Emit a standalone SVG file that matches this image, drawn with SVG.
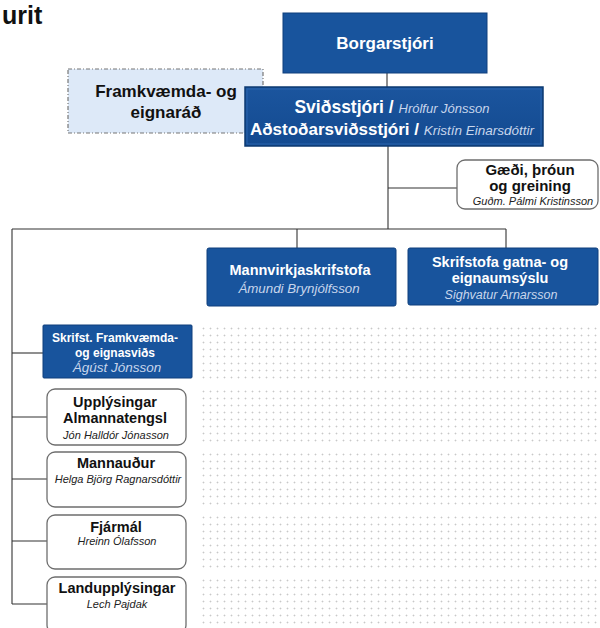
<svg xmlns="http://www.w3.org/2000/svg" width="600" height="628" viewBox="0 0 600 628">
<defs>
<pattern id="dots" width="7" height="7" patternUnits="userSpaceOnUse" x="200" y="325">
<rect x="0" y="0" width="7" height="7" fill="#ffffff"/>
<rect x="2" y="3" width="3" height="1" fill="#ececec"/>
<rect x="3" y="2" width="1" height="3" fill="#ececec"/>
<rect x="3" y="3" width="1" height="1" fill="#c8c8c8"/>
</pattern>
<linearGradient id="svgrad" x1="0" y1="0" x2="0" y2="1">
<stop offset="0" stop-color="#1b559e"/>
<stop offset="1" stop-color="#134a90"/>
</linearGradient>
</defs>
<style>
.blue{fill:#18549d;stroke:#0f3f7c;stroke-width:1}
.white{fill:#ffffff;stroke:#6e6e6e;stroke-width:1.3}
.band{fill:url(#dots)}
.conn line{stroke:#333333;stroke-width:1.1}
text{font-family:"Liberation Sans",Arial,sans-serif;text-anchor:middle}
.bw{font-weight:bold;fill:#ffffff}
.bk{font-weight:bold;fill:#111111}
.iw{font-style:italic;fill:#c8d6ec}
.ik{font-style:italic;fill:#222222}
</style>
<rect width="600" height="628" fill="#ffffff"/>
<text x="2" y="24" style="font-weight:bold;font-size:25px;text-anchor:start;fill:#111">urit</text>

<g id="bands">
<rect class="band" x="200" y="325" width="400" height="55"/>
<rect class="band" x="200" y="388" width="400" height="57"/>
<rect class="band" x="200" y="452" width="400" height="55"/>
<rect class="band" x="200" y="515" width="400" height="54"/>
<rect class="band" x="200" y="577" width="400" height="51"/>
</g>

<g id="connectors" class="conn">
<line x1="387" y1="73" x2="387" y2="87"/>
<line x1="388" y1="146" x2="388" y2="229"/>
<line x1="388" y1="188" x2="457" y2="188"/>
<line x1="12" y1="229" x2="506" y2="229"/>
<line x1="297" y1="229" x2="297" y2="248"/>
<line x1="506" y1="229" x2="506" y2="248"/>
<line x1="12" y1="229" x2="12" y2="604"/>
<line x1="12" y1="353" x2="43" y2="353"/>
<line x1="12" y1="417" x2="47" y2="417"/>
<line x1="12" y1="479" x2="47" y2="479"/>
<line x1="12" y1="541" x2="47" y2="541"/>
<line x1="12" y1="604" x2="47" y2="604"/>
</g>

<g id="borgarstjori">
<rect class="blue" x="283" y="13" width="204" height="60"/>
<text class="bw" x="385" y="49" font-size="17">Borgarstjóri</text>
</g>

<g id="framkvaemdarad">
<rect x="68" y="69" width="195" height="64" fill="#dde9f8" stroke="#777777" stroke-width="1.2" stroke-dasharray="4 2 1 2"/>
<text class="bk" x="166" y="97" font-size="17">Framkvæmda- og</text>
<text class="bk" x="166" y="118" font-size="17">eignaráð</text>
</g>

<g id="svidsstjori">
<rect x="245" y="87" width="298" height="59" fill="url(#svgrad)" stroke="#0c3a72" stroke-width="1.5"/>
<rect x="247" y="89" width="294" height="55" fill="none" stroke="#2a64ad" stroke-width="1"/>
<text x="392" y="113"><tspan class="bw" font-size="17.5">Sviðsstjóri / </tspan><tspan class="iw" font-size="13">Hrólfur Jónsson</tspan></text>
<text x="392" y="135"><tspan class="bw" font-size="17">Aðstoðarsviðsstjóri / </tspan><tspan class="iw" font-size="13.5">Kristín Einarsdóttir</tspan></text>
</g>

<g id="gaedi">
<rect class="white" x="457" y="160" width="141" height="49" rx="8"/>
<text class="bk" x="530" y="175" font-size="15">Gæði, þróun</text>
<text class="bk" x="530" y="191" font-size="15">og greining</text>
<text class="ik" x="533" y="205" font-size="11">Guðm. Pálmi Kristinsson</text>
</g>

<g id="mannvirkja">
<rect class="blue" x="207" y="248" width="189" height="58" rx="2"/>
<text class="bw" x="300" y="275" font-size="14.5">Mannvirkjaskrifstofa</text>
<text class="iw" x="299" y="293" font-size="13.3">Ámundi Brynjólfsson</text>
</g>

<g id="gatna">
<rect class="blue" x="408" y="248" width="190" height="57" rx="2"/>
<text class="bw" x="500" y="267" font-size="14.5">Skrifstofa gatna- og</text>
<text class="bw" x="500" y="283" font-size="14.5">eignaumsýslu</text>
<text class="iw" x="501" y="299" font-size="12.5">Sighvatur Arnarsson</text>
</g>

<g id="skrifst">
<rect class="blue" x="43" y="325" width="149" height="53" rx="1"/>
<text class="bw" x="115" y="342" font-size="12">Skrifst. Framkvæmda-</text>
<text class="bw" x="115" y="357" font-size="12">og eignasviðs</text>
<text class="iw" x="117" y="372" font-size="13.5">Ágúst Jónsson</text>
</g>

<g id="upplysingar">
<rect class="white" x="47" y="389" width="139" height="56" rx="8"/>
<text class="bk" x="115" y="407" font-size="14.5">Upplýsingar</text>
<text class="bk" x="115" y="423" font-size="14.5">Almannatengsl</text>
<text class="ik" x="116" y="439" font-size="11">Jón Halldór Jónasson</text>
</g>

<g id="mannaudur">
<rect class="white" x="47" y="452" width="139" height="55" rx="8"/>
<text class="bk" x="116" y="468" font-size="14.5">Mannauður</text>
<text class="ik" x="118" y="483" font-size="11">Helga Björg Ragnarsdóttir</text>
</g>

<g id="fjarmal">
<rect class="white" x="47" y="515" width="139" height="54" rx="8"/>
<text class="bk" x="116" y="532" font-size="14.5">Fjármál</text>
<text class="ik" x="117" y="545" font-size="11">Hreinn Ólafsson</text>
</g>

<g id="landupplysingar">
<rect class="white" x="47" y="577" width="139" height="56" rx="8"/>
<text class="bk" x="117" y="593" font-size="14.5">Landupplýsingar</text>
<text class="ik" x="117" y="608" font-size="11">Lech Pajdak</text>
</g>
</svg>
